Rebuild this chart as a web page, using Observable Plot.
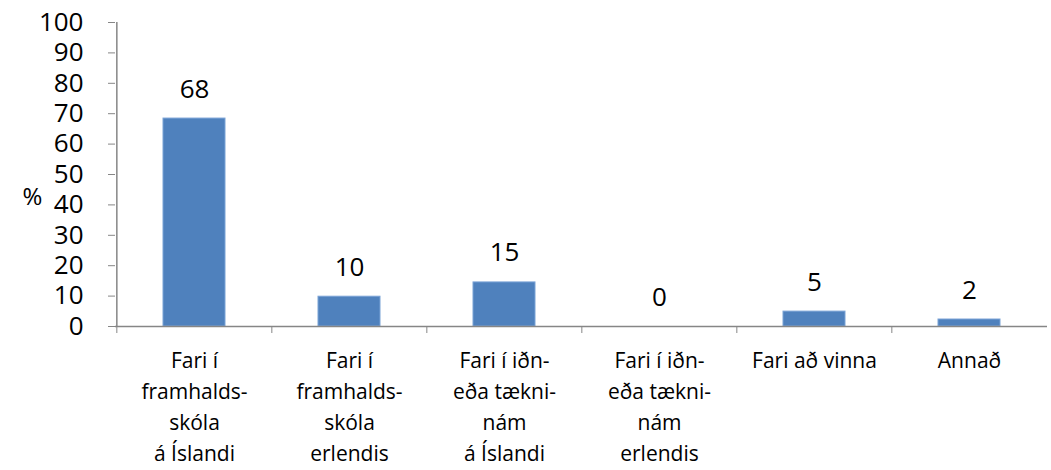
<!DOCTYPE html>
<html><head><meta charset="utf-8">
<script src="https://cdn.jsdelivr.net/npm/d3@7"></script>
<script src="https://cdn.jsdelivr.net/npm/@observablehq/plot@0.6"></script>
<style>body{margin:0;background:#fff;} #c{width:1051px;height:470px;}</style>
</head><body><div id="c"></div>
<script>
const categories = [
  "Fari í\nframhalds-\nskóla\ná Íslandi",
  "Fari í\nframhalds-\nskóla\nerlendis",
  "Fari í iðn-\neða tækni-\nnám\ná Íslandi",
  "Fari í iðn-\neða tækni-\nnám\nerlendis",
  "Fari að vinna",
  "Annað"
];
const values = [68.4, 9.8, 14.5, 0, 4.9, 2.3];
const valueLabels = ["68", "10", "15", "0", "5", "2"];
const yTicks = [0, 10, 20, 30, 40, 50, 60, 70, 80, 90, 100];

const data = categories.map((c, i) => ({cat: c, v: values[i], lab: valueLabels[i]}));
const W = 1051, H = 470, mL = 115, mR = 4;
const step = (W - mL - mR) / categories.length;
const font = "'Open Sans', sans-serif";
const gray = "#868686";

const chart = Plot.plot({
  width: W, height: H,
  marginLeft: mL, marginRight: mR, marginTop: 22, marginBottom: 144,
  style: {fontFamily: font, background: "#fff", color: "#000"},
  x: {domain: categories, paddingInner: 0.6, paddingOuter: 0.3, label: null},
  y: {domain: [0, 100], label: null},
  marks: [
    Plot.barY(data, {x: "cat", y: "v", fill: "#4F81BD", stroke: "#7BA3D6", strokeWidth: 1}),
    Plot.text(data, {x: "cat", y: "v", text: "lab", lineAnchor: "bottom", dy: -21, fontSize: 26, fill: "#000"}),
    Plot.ruleY([0], {stroke: gray, strokeWidth: 1.5}),
    Plot.ruleX([categories[0]], {dx: -step / 2, stroke: gray, strokeWidth: 1.5}),
    Plot.axisY({ticks: yTicks, tickSize: 7, tickPadding: 25, fontSize: 26, stroke: gray, color: "#000", tickFormat: d => String(d), label: null}),
    Plot.axisX({tickSize: 7, tickFormat: () => "", dx: -step / 2, stroke: gray, label: null}),
    Plot.axisX({tickSize: 0, tickPadding: 19, fontSize: 21, lineHeight: 1.48, color: "#000", label: null, textAnchor: "middle"}),
    Plot.text(["%"], {frameAnchor: "left", dx: -93, dy: 23, fontSize: 24, fill: "#000", text: d => d})
  ]
});
document.getElementById("c").appendChild(chart);
</script>
</body></html>
